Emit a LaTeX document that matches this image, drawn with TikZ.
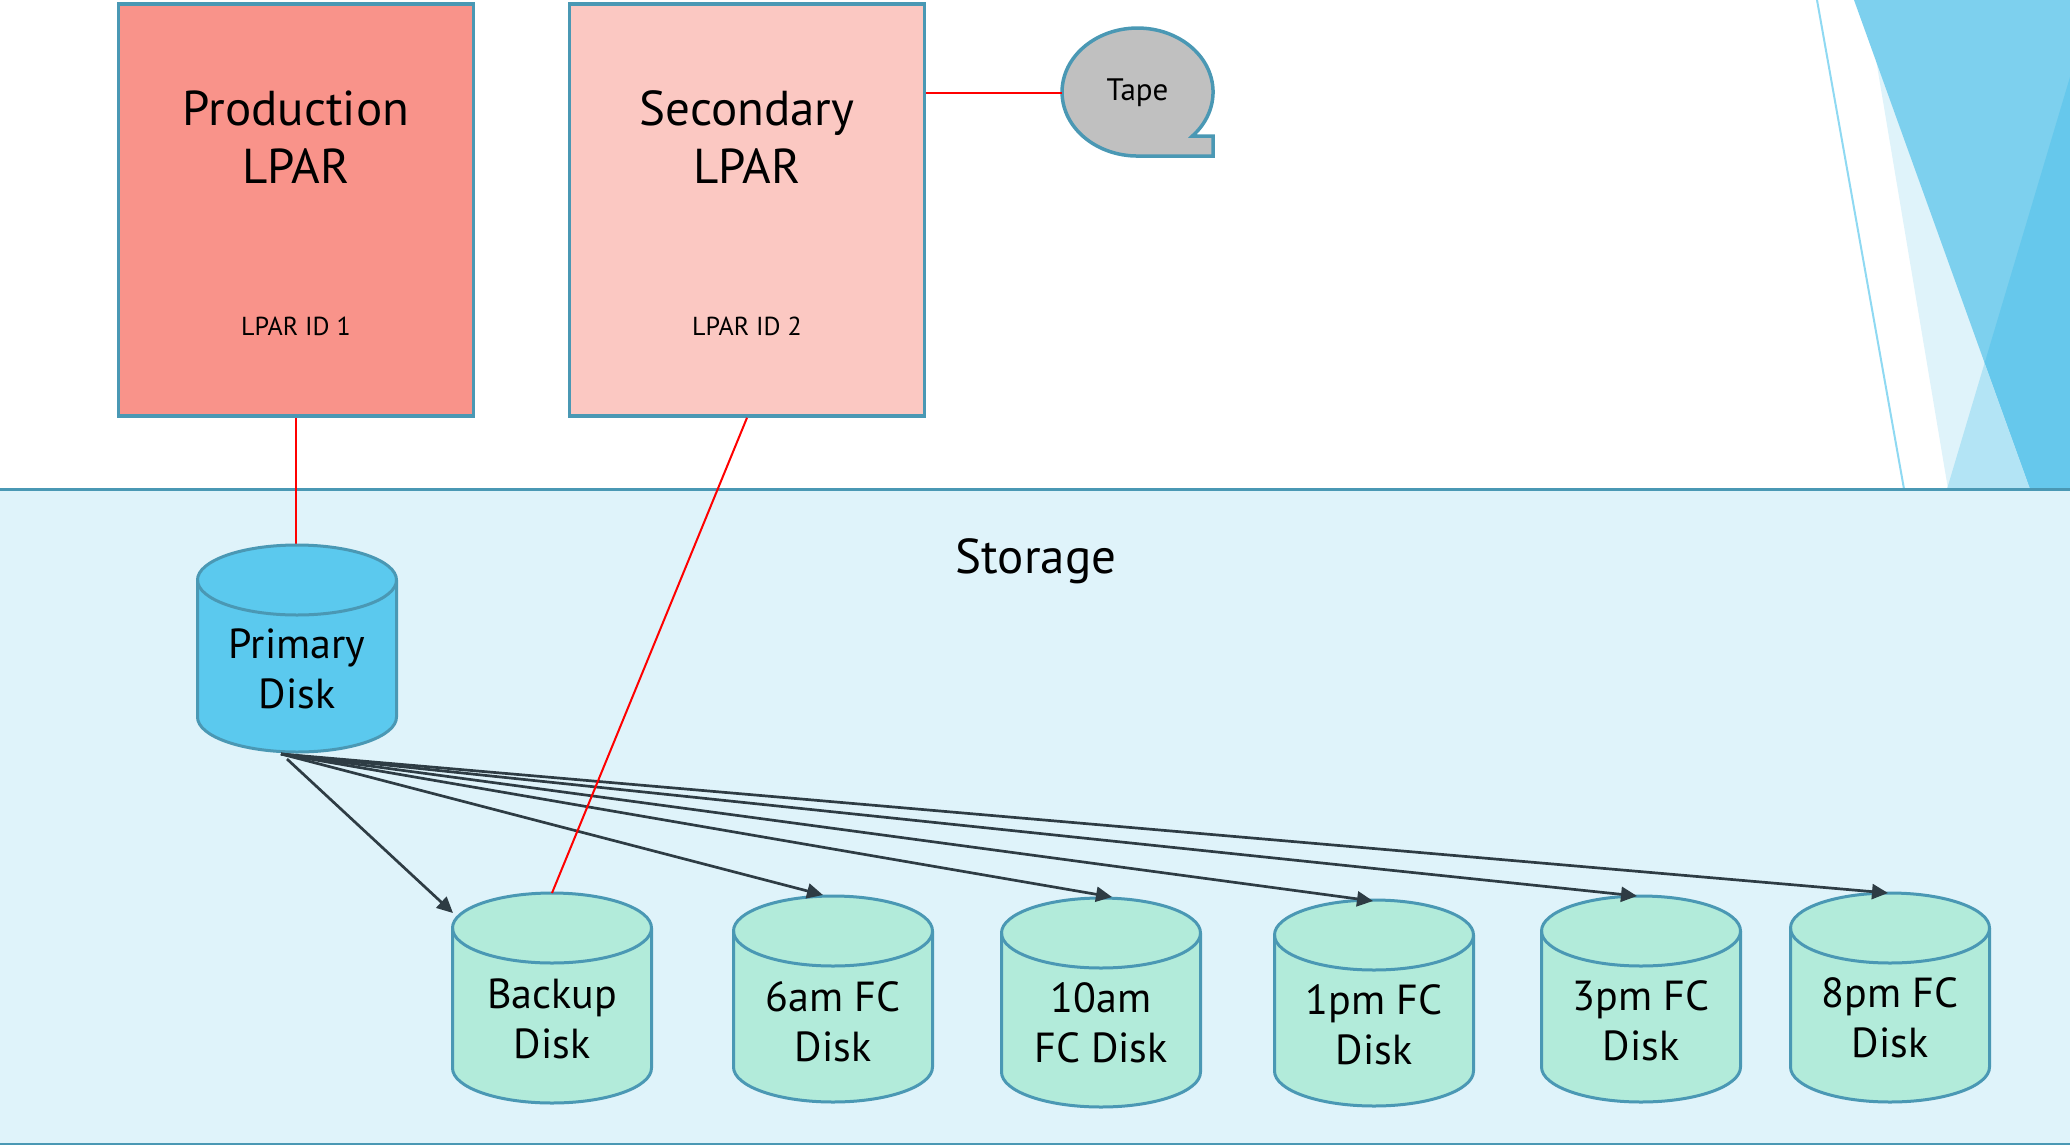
\documentclass[tikz,border=0pt]{standalone}
\usepackage{fontspec}
\setmainfont{PT Sans}
\usetikzlibrary{arrows.meta,shapes.geometric}
\definecolor{bordc}{HTML}{4A98B4}
\definecolor{prodc}{HTML}{F9938A}
\definecolor{secc}{HTML}{FBC8C2}
\definecolor{tapec}{HTML}{C0C0C0}
\definecolor{storc}{HTML}{DFF3FA}
\definecolor{primc}{HTML}{5BC9EE}
\definecolor{diskc}{HTML}{B2EBDA}
\definecolor{arrc}{HTML}{2E3C44}
\definecolor{decoline}{HTML}{8FD9F2}
\definecolor{decoA}{HTML}{7DD0EE}
\definecolor{decoAB}{HTML}{66C8EC}
\definecolor{decoB}{HTML}{B3E4F5}
\newcommand\drawdisk[4]{%
  \filldraw[diskline, fill=#4] (#1-99.5,#2+35) -- (#1-99.5,#3-35)
    arc[start angle=180,end angle=0,x radius=99.5,y radius=35]
    -- (#1+99.5,#2+35)
    arc[start angle=0,end angle=-180,x radius=99.5,y radius=35] -- cycle;
  \draw[diskline] (#1-99.5,#2+35) arc[start angle=180,end angle=0,x radius=99.5,y radius=35];
}
\begin{document}
\begin{tikzpicture}[x=1pt,y=-1pt,
  lpar/.style={draw=bordc, line width=3.5pt, inner sep=0pt},
  titletext/.style={align=center, font=\fontsize{49}{58}\selectfont},
  idtext/.style={font=\fontsize{26}{30}\selectfont},
  diskline/.style={draw=bordc, line width=3pt},
  disktext/.style={align=center, font=\fontsize{42}{50}\selectfont},
  redline/.style={draw=red, line width=2pt},
  arr/.style={draw=arrc, line width=2.7pt, -{Triangle[length=16pt,width=15pt]}}]
\useasboundingbox (0,0) rectangle (2070,1144);
% decoration top right
\fill[storc] (1866,0) -- (2070,0) -- (2070,489) -- (1948,489) -- cycle;
\fill[decoA] (1854,0) -- (2070,0) -- (2070,489) -- (2030,489) -- cycle;
\fill[decoAB] (2070,77) -- (2070,489) -- (2030,489) -- (1984.6,363) -- cycle;
\fill[decoB] (1984.6,363) -- (2030,489) -- (1947,489) -- cycle;
\draw[decoline, line width=2pt] (1817,0) -- (1904,489);
% storage
\node[draw=bordc, fill=storc, line width=3pt, minimum width=2074, minimum height=655, inner sep=0pt] (storage) at (1035,816.5) {};
\node[font=\fontsize{49}{58}\selectfont] (storlabel) at (1036,561) {Storage};
% LPAR boxes
\node[lpar, fill=prodc, minimum width=355, minimum height=412] (prod) at (296,210) {};
\node[titletext] (prodtitle) at (296,137) {Production\\LPAR};
\node[idtext] (prodid) at (296,326) {LPAR ID 1};
\node[lpar, fill=secc, minimum width=355, minimum height=412] (sec) at (747,210) {};
\node[titletext] (sectitle) at (747,137) {Secondary\\LPAR};
\node[idtext] (secid) at (747,326) {LPAR ID 2};
% tape
\filldraw[draw=bordc, fill=tapec, line width=3.5pt] (1213,156) -- (1213,136) -- (1192.4,136)
  arc[start angle=43.4, end angle=-270, x radius=75.5, y radius=64] -- cycle;
\node[ellipse, minimum width=151, minimum height=128, inner sep=0pt, font=\fontsize{31}{36}\selectfont] (tape) at (1137.5,93) {Tape};
\draw[redline] (sec.east |- tape.west) -- (tape.west);
% coordinates
\coordinate (pd-top) at (296,545);
\coordinate (bk-top) at (552,893);
\coordinate (pd-src) at (281,754);
\coordinate (pd-src2) at (287,759);
\coordinate (bk-in) at (453,913);
\coordinate (d6-in) at (823,895);
\coordinate (d10-in) at (1112,897);
\coordinate (d1-in) at (1373,901);
\coordinate (d3-in) at (1637,896);
\coordinate (d8-in) at (1888,893);
\draw[redline] (prod.south) -- (pd-top);
% disks
\drawdisk{297}{545}{752}{primc}
\node[disktext] (pd) at (297,669) {Primary\\Disk};
\drawdisk{552}{893}{1103}{diskc}
\node[disktext] (bk) at (552,1019) {Backup\\Disk};
\drawdisk{833}{896}{1102}{diskc}
\node[disktext] (d6) at (833,1022) {6am FC\\Disk};
\drawdisk{1101}{898}{1107}{diskc}
\node[disktext] (d10) at (1101,1023) {10am\\FC Disk};
\drawdisk{1374}{900}{1106}{diskc}
\node[disktext] (d1) at (1374,1025) {1pm FC\\Disk};
\drawdisk{1641}{896}{1102}{diskc}
\node[disktext] (d3) at (1641,1021) {3pm FC\\Disk};
\drawdisk{1890}{893}{1102}{diskc}
\node[disktext] (d8) at (1890,1018) {8pm FC\\Disk};
% arrows
\draw[arr] (pd-src2) -- (bk-in);
\draw[arr] (pd-src) -- (d6-in);
\draw[arr] (pd-src) -- (d10-in);
\draw[arr] (pd-src) -- (d1-in);
\draw[arr] (pd-src) -- (d3-in);
\draw[arr] (pd-src) -- (d8-in);
\draw[redline] (sec.south) -- (bk-top);
\end{tikzpicture}
\end{document}
